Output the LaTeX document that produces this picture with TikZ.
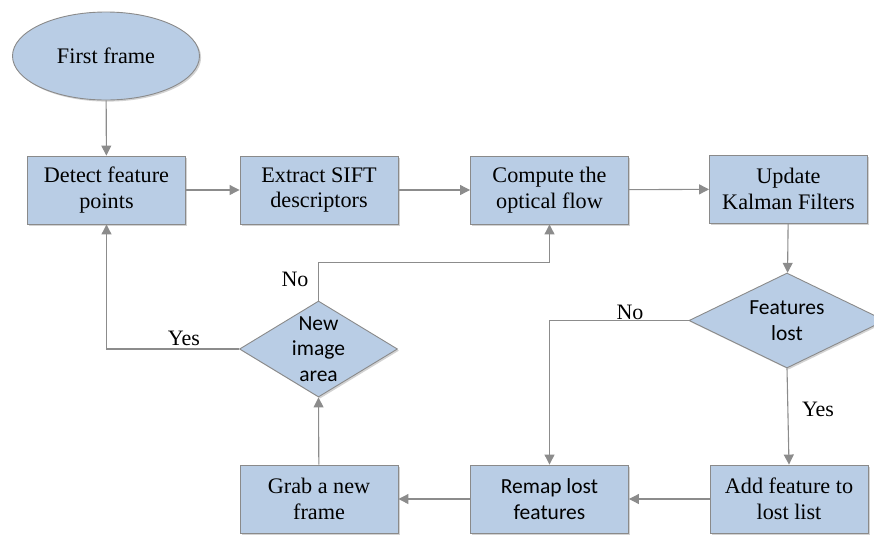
\documentclass[tikz,border=0pt]{standalone}
\usepackage{fontspec}
\setmainfont{Liberation Serif}
\newfontfamily\timesfont{Liberation Serif}
\newfontfamily\calfont{Carlito}
\usetikzlibrary{shapes.geometric,arrows.meta,shadows}
\definecolor{boxfill}{HTML}{B9CDE5}
\definecolor{boxline}{HTML}{8A8A8A}
\definecolor{lnk}{HTML}{8C8C8C}
\definecolor{shad}{HTML}{A6A6A6}
\tikzset{
  base/.style={fill=boxfill,draw=boxline,line width=0.9pt,
    drop shadow={shadow xshift=1.6pt,shadow yshift=-1.6pt,fill=shad,draw=none}},
  pbox/.style={base,rectangle,minimum width=158pt,minimum height=68pt,inner sep=0pt,
    align=center,font=\timesfont\fontsize{22.2}{25.5}\selectfont},
  sbox/.style={pbox,font=\calfont\fontsize{21.5}{25.5}\selectfont},
  oval/.style={base,ellipse,minimum width=187pt,minimum height=88pt,inner sep=0pt,
    font=\timesfont\fontsize{22.2}{25.5}\selectfont},
  dia/.style={base,diamond,inner sep=0pt},
  dtext/.style={align=center,font=\calfont\fontsize{21.5}{25.5}\selectfont},
  lab/.style={font=\timesfont\fontsize{22}{25.5}\selectfont,inner sep=0pt},
  conn/.style={draw=lnk,line width=1.1pt,-{Triangle[length=10pt,width=10pt]}},
}
\begin{document}
\begin{tikzpicture}[x=1pt,y=-1pt]
\useasboundingbox (0,0) rectangle (874,536);
\node[oval] (ff) at (106,56) {First frame};
\node[pbox] (detect) at (106.5,190) {Detect feature\\points};
\node[pbox] (extract) at (319,190) {Extract SIFT\\descriptors};
\node[pbox] (compute) at (549.5,190) {Compute the\\optical flow};
\node[pbox] (kalman) at (788.5,189) {Update\\Kalman Filters};
\node[dia,minimum width=196pt,minimum height=95pt] (d2) at (787,320.5) {};
\node[dtext] at (787,320.5) {Features\\lost};
\node[dia,minimum width=158pt,minimum height=96pt] (d1) at (318.5,349) {};
\node[dtext] at (318.5,349) {New\\image\\area};
\node[pbox] (grab) at (319,499) {Grab a new\\frame};
\node[sbox] (remap) at (549.5,499) {Remap lost\\features};
\node[pbox] (add) at (789,499) {Add feature to\\lost list};

\draw[conn] (ff) -- (detect);
\draw[conn] (detect) -- (extract);
\draw[conn] (extract) -- (compute);
\draw[conn] (compute) -- (kalman);
\draw[conn] (kalman) -- (d2);
\draw[conn] (d2.west) -| (remap.north);
\draw[conn] (d2.south) -- (add.north);
\draw[conn] (add) -- (remap);
\draw[conn] (remap) -- (grab);
\draw[conn] (grab) -- (d1.south);
\draw[conn] (d1.north) -- ++(0,-38) coordinate (nk) -| (compute.south);
\draw[conn] (d1.west) -| (detect.south);

\node[lab] (lno1) at (630,312) {No};
\node[lab] (lyes1) at (818,409) {Yes};
\node[lab] (lno2) at (295,279) {No};
\node[lab] (lyes2) at (184,338) {Yes};
\end{tikzpicture}
\end{document}
